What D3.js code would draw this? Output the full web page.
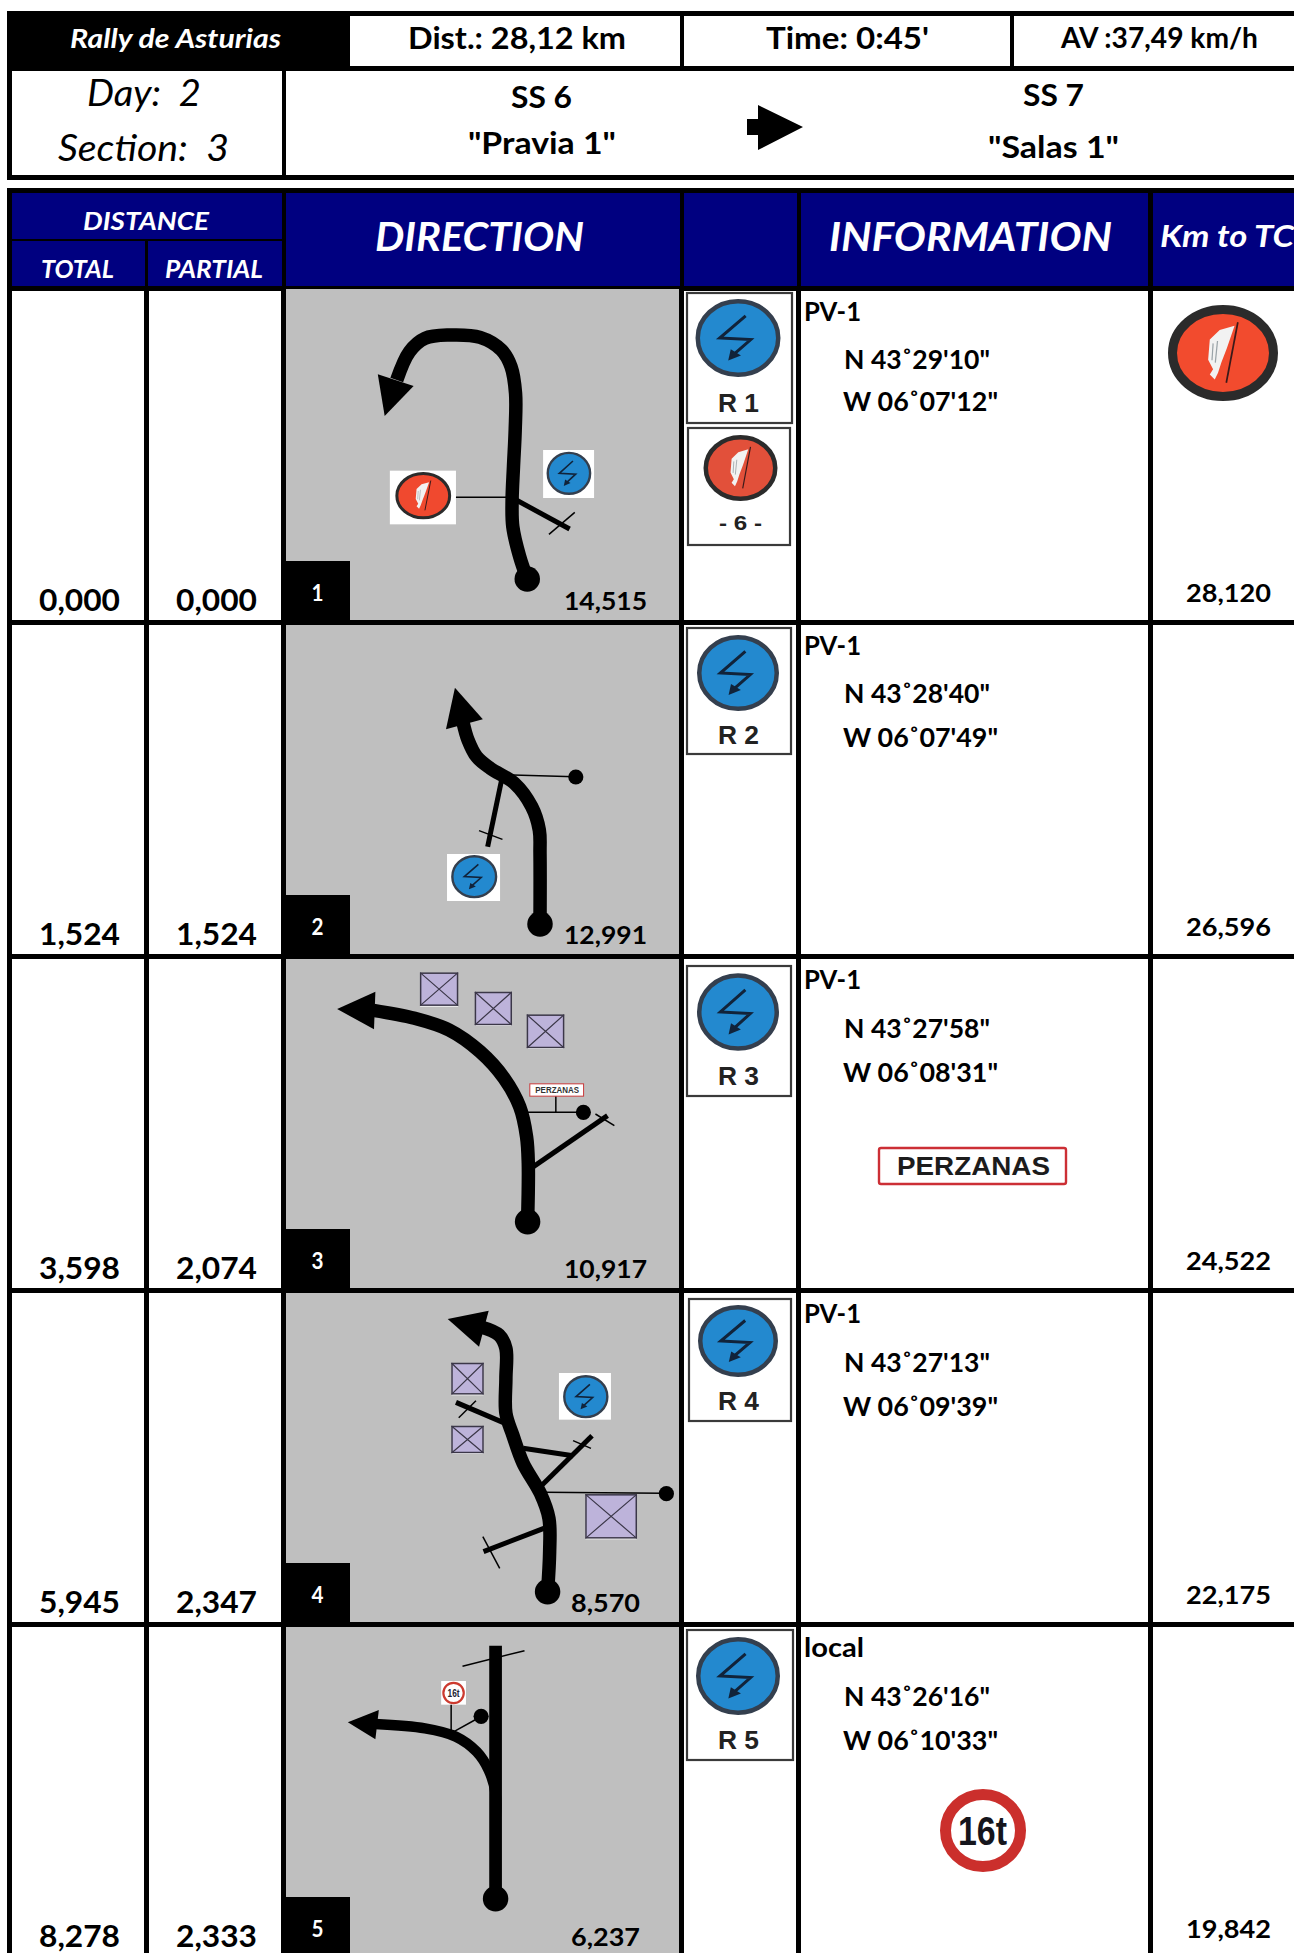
<!DOCTYPE html>
<html><head><meta charset="utf-8">
<script src="https://cdn.jsdelivr.net/npm/d3@7"></script>
<style>html,body{margin:0;padding:0;background:#fff}svg{display:block}</style>
</head><body><svg id="c" width="1294" height="1953"></svg>
<script>
// ---- Values read from the roadbook ----
const rallyName = "Rally de Asturias";
const distLabel = "Dist.: 28,12 km";
const timeLabel = "Time: 0:45'";
const avgLabel = "AV :37,49 km/h";
const dayLabel = "Day:  2";
const sectionLabel = "Section:  3";
const fromStage = ["SS 6", '"Pravia 1"'];
const toStage = ["SS 7", '"Salas 1"'];
const headers = ["DISTANCE", "TOTAL", "PARTIAL", "DIRECTION", "INFORMATION", "Km to TC"];
const steps = [1, 2, 3, 4, 5];
const totals = ["0,000", "1,524", "3,598", "5,945", "8,278"];
const partials = ["0,000", "1,524", "2,074", "2,347", "2,333"];
const toFinish = ["14,515", "12,991", "10,917", "8,570", "6,237"];
const toControl = ["28,120", "26,596", "24,522", "22,175", "19,842"];
const roads = ["PV-1", "PV-1", "PV-1", "PV-1", "local"];
const north = ["N 43˚29'10\"", "N 43˚28'40\"", "N 43˚27'58\"", "N 43˚27'13\"", "N 43˚26'16\""];
const west = ["W 06˚07'12\"", "W 06˚07'49\"", "W 06˚08'31\"", "W 06˚09'39\"", "W 06˚10'33\""];
const refs = ["R 1", "R 2", "R 3", "R 4", "R 5"];

// Tulip geometry: [x,y] readings on a 1568×1050 grid laid over each 540×350 window
const tulipMain = [
 [[747,897],[725,830],[705,740],[703,660],[707,560],[712,450],[713,340],[700,260],[672,210],[610,172],[520,165],[450,175],[405,215],[368,300]],
 [[784,912],[784,700],[782,630],[760,560],[710,490],[640,445],[600,410],[575,360],[560,305]],
 [[748,815],[750,640],[745,560],[725,470],[680,385],[610,305],[520,240],[420,205],[300,181]],
 [[806,920],[812,800],[810,700],[785,625],[735,535],[705,450],[685,385],[685,280],[685,190],[665,150],[610,125]],
 [[655,600],[655,520],[635,450],[600,395],[540,350],[450,325],[305,312]]
];
const tulipHeads = [
 [[313,283],[417,318],[333,408]],
 [[537,203],[618,298],[511,328]],
 [[195,177],[306,125],[302,238]],
 [[516,102],[635,77],[607,185]],
 [[226,307],[316,270],[306,358]]
];
const tulipDots = [[[747,897,37]],[[784,912,37],[888,471,22]],[[748,815,37],[910,487,22]],[[806,920,37],[1151,626,22]],[[655,836,37],[613,289,22]]];
const thickLines = [
 [[715,660,870,747]],
 [[672,482,632,680]],
 [[765,650,980,497]],
 [[795,730,620,800],[785,605,935,452],[735,490,880,512],[678,413,540,352]],
 [[655,77,655,836]]
];
const thinLines = [
 [[540,652,700,652],[810,763,885,697]],
 [[705,465,885,470],[607,632,675,658]],
 [[745,487,900,487],[830,437,830,487],[945,492,1000,527]],
 [[795,622,1140,625],[618,755,667,850],[880,467,932,490],[548,398,598,347]],
 [[559,139,739,92],[526,250,526,335],[530,337,600,297]]
];
const crossBoxes = [[],[],[[436,68,546,167],[595,126,702,225],[746,194,854,294]],[[527,234,620,328],[527,423,620,504],[916,628,1065,760]],[]];
const miniBlue = [[793,510,941,654,868,580,65,65],[514,702,668,843,593,770,67,65],null,[839,264,990,404,917,335,66,65],null];
const miniFlag = [[348,572,540,733,445,647,81,71],null,null,null,null];

// Sign shapes, in unit-circle coordinates
const boltLine = [[.18,-.57],[-.43,0],[.30,.04],[-.12,.44]];
const boltTip = [[-.23,.58],[-.17,.29],[.07,.45]];
const flagCloth = [[.21,-.57],[-.06,-.48],[-.24,-.28],[-.27,.14],[-.18,.34],[-.24,.45],[-.15,.55],[-.09,.41],[-.03,.2],[.07,-.1]];
const flagPole = [[.27,-.64],[.06,.62]];
const flagVeins = [[[-.18,-.2],[-.2,.15]],[[-.1,-.25],[-.14,.2]]];

// ---- Layout scales ----
const svg = d3.select("#c");
const font = "Lato, Carlito, sans-serif";
const rowLine = d3.scaleLinear().domain([0,1]).range([286,620]);
const rowBase = d3.scaleLinear().domain([0,1]).range([611,945]);
const zoomOff = [280,620,950,1285,1620];
const gx = d3.scaleLinear().domain([0,1568]).range([270,810]);
const gw = d3.scaleLinear().domain([0,1568]).range([0,540]);
const gyOf = i => d3.scaleLinear().domain([0,1050]).range([zoomOff[i], zoomOff[i]+350]);

function T(txt,x0,x1,base,size,o={}){
  return (o.g||svg).append("text").attr("x",x0).attr("y",base)
    .attr("font-family",o.family||font).attr("font-size",size)
    .attr("font-weight",o.w||700).attr("font-style",o.i?"italic":"normal")
    .attr("fill",o.fill||"#000").attr("textLength",x1-x0).attr("lengthAdjust","spacingAndGlyphs")
    .attr("xml:space","preserve").style("white-space","pre").text(txt);
}
function R(x0,y0,x1,y1,fill){return svg.append("rect").attr("x",x0).attr("y",y0).attr("width",x1-x0).attr("height",y1-y0).attr("fill",fill);}

function blueSign(cx,cy,rx,ry,ring,bw){
  svg.append("ellipse").attr("cx",cx).attr("cy",cy).attr("rx",rx-ring/2).attr("ry",ry-ring/2)
     .attr("fill","#2389cf").attr("stroke","#343f4e").attr("stroke-width",ring);
  const l=d3.line().x(d=>cx+d[0]*rx).y(d=>cy+d[1]*ry);
  svg.append("path").attr("d",l(boltLine)).attr("fill","none").attr("stroke","#11233a").attr("stroke-width",bw);
  svg.append("path").attr("d",l(boltTip)+"Z").attr("fill","#11233a");
}
function flagSign(cx,cy,rx,ry,ring,fill){
  svg.append("ellipse").attr("cx",cx).attr("cy",cy).attr("rx",rx-ring/2).attr("ry",ry-ring/2)
     .attr("fill",fill).attr("stroke","#2b2b2b").attr("stroke-width",ring);
  const l=d3.line().x(d=>cx+d[0]*rx).y(d=>cy+d[1]*ry);
  svg.append("path").attr("d",l(flagCloth)+"Z").attr("fill","#f2f2f2");
  flagVeins.forEach(v=>svg.append("path").attr("d",l(v)).attr("stroke","#9aa3a8").attr("stroke-width",Math.max(.6,rx/45)).attr("fill","none"));
  svg.append("path").attr("d",l(flagPole)).attr("stroke","#3a1a1a").attr("stroke-width",Math.max(1,rx/32)).attr("fill","none");
}
function card(x0,y0,x1,y1){
  svg.append("rect").attr("x",x0+1).attr("y",y0+1).attr("width",x1-x0-2).attr("height",y1-y0-2)
     .attr("fill","#fff").attr("stroke","#3a3a3a").attr("stroke-width",2.2);
}

// ---- Top block ----
R(7,11,1294,180,"#000");
R(350,16,680,66,"#fff"); R(684,16,1010,66,"#fff"); R(1014,16,1294,66,"#fff");
R(12,71,282,175,"#fff"); R(286,71,1294,175,"#fff");
T(rallyName,70,281,48,27,{i:1,fill:"#fff"});
T(distLabel,408,626,49,31);
T(timeLabel,766,929,49,31);
T(avgLabel,1061,1258,48,28);
T(dayLabel,87,201,106,37,{i:1,w:400});
T(sectionLabel,58,229,161,37,{i:1,w:400});
T(fromStage[0],511,572,108,31);
T(fromStage[1],468,616,154,31);
T(toStage[0],1023,1084,106,31);
T(toStage[1],988,1119,158,31);
svg.append("path").attr("d",d3.line()([[747,119],[758,119],[758,105],[803,127],[758,150],[758,135],[747,135]])+"Z").attr("fill","#000");

// ---- Header block ----
const navy="#000080";
R(7,188,1294,291,"#000");
R(12,193,282,239,navy); R(12,241,145,286,navy); R(148,241,282,286,navy);
R(286,193,680,286,navy); R(684,193,797,286,navy); R(801,193,1148,286,navy); R(1153,193,1294,286,navy);
T(headers[0],83,209,230,25,{i:1,fill:"#fff"});
T(headers[1],41,114,278,24,{i:1,fill:"#fff"});
T(headers[2],165,263,278,24,{i:1,fill:"#fff"});
T(headers[3],375,584,251,40,{i:1,fill:"#fff"});
T(headers[4],829,1112,251,40,{i:1,fill:"#fff"});
T(headers[5],1160,1294,247,30,{i:1,fill:"#fff"});

// ---- Rows ----
R(7,286,12,1953,"#000");
[144,281,679,796,1148].forEach(x=>R(x,286,x+5,1953,"#000"));
R(7,286,1294,291,"#000");
steps.forEach((s,i)=>{ if(i>0) R(7,rowLine(i),1294,rowLine(i)+5,"#000"); });

// grey tulip panels, step boxes
steps.forEach((s,i)=>{
  const top=i===0?289:rowLine(i)+5, bottom=rowLine(i+1);
  R(286,top,679,Math.min(bottom,1953),"#bfbfbf");
  R(281,bottom-59,350,Math.min(bottom,1953),"#000");
  T(String(s),311.5,323.5,bottom-19,23,{fill:"#fff"});
});

const NUM=31, SMALL=24;
steps.forEach((s,i)=>{
  const b=rowBase(i);
  T(totals[i],39,120,b,NUM);
  T(partials[i],176,257,b,NUM);
  const f=toFinish[i], fx=f.length>5?[564,647]:[571,640];
  T(f,fx[0],fx[1],b-1,SMALL+.5);
  T(toControl[i],1186,1271,b-9,SMALL+.5);
});

// tulips
const crossColor="#3b3748";
steps.forEach((s,i)=>{
  const sx=gx, sy=gyOf(i);
  const w=v=>gw(v);
  const line=d3.line().x(d=>sx(d[0])).y(d=>sy(d[1])).curve(d3.curveCatmullRom.alpha(.5));
  if(miniBlue[i]){const m=miniBlue[i]; R(sx(m[0]),sy(m[1]),sx(m[2]),sy(m[3]),"#fff");
    blueSign(sx(m[4]),sy(m[5]),w(m[6]),m[7]/3,2.4,1.6);}
  if(miniFlag[i]){const m=miniFlag[i]; R(sx(m[0]),sy(m[1]),sx(m[2]),sy(m[3]),"#fff");
    flagSign(sx(m[4]),sy(m[5]),w(m[6]),m[7]/3,3,"#f0492f");}
  crossBoxes[i].forEach(b=>{
    const x0=sx(b[0]),y0=sy(b[1]),x1=sx(b[2]),y1=sy(b[3]);
    R(x0,y0+1,x1,y1+1,"#fff");
    svg.append("rect").attr("x",x0+.5).attr("y",y0+.5).attr("width",x1-x0-1).attr("height",y1-y0-1).attr("fill","#bdb3da").attr("stroke",crossColor).attr("stroke-width",1.5);
    svg.append("path").attr("d",`M${x0},${y0}L${x1},${y1}M${x1},${y0}L${x0},${y1}`).attr("stroke",crossColor).attr("stroke-width",1.2);
  });
  thinLines[i].forEach(l=>svg.append("line").attr("x1",sx(l[0])).attr("y1",sy(l[1])).attr("x2",sx(l[2])).attr("y2",sy(l[3])).attr("stroke","#000").attr("stroke-width",1.5));
  thickLines[i].forEach(l=>svg.append("line").attr("x1",sx(l[0])).attr("y1",sy(l[1])).attr("x2",sx(l[2])).attr("y2",sy(l[3])).attr("stroke","#000").attr("stroke-width",i===4?12.7:5));
  svg.append("path").attr("d",line(tulipMain[i])).attr("fill","none").attr("stroke","#000").attr("stroke-width",i===4?10.5:13.5);
  svg.append("path").attr("d",d3.line().x(d=>sx(d[0])).y(d=>sy(d[1]))(tulipHeads[i])+"Z").attr("fill","#000");
  tulipDots[i].forEach(d=>svg.append("circle").attr("cx",sx(d[0])).attr("cy",sy(d[1])).attr("r",w(d[2])).attr("fill","#000"));
});

// tiny PERZANAS in tulip 3
(function(){
  const gy=gyOf(2);
  const x0=gx(753),x1=gx(912),y0=gy(400),y1=gy(440);
  svg.append("rect").attr("x",x0+.5).attr("y",y0+.5).attr("width",x1-x0-1).attr("height",y1-y0-1).attr("fill","#fff").attr("stroke","#c9393b").attr("stroke-width",1);
  T("PERZANAS",x0+6,x1-5,y1-4,9.5,{family:"Liberation Sans",fill:"#333",w:700});
})();
// tiny 16t in tulip 5
(function(){
  const gy=gyOf(4);
  R(gx(497),gy(183),gx(569),gy(254),"#fff");
  svg.append("circle").attr("cx",gx(533)).attr("cy",gy(219)).attr("r",10.2).attr("fill","#fff").attr("stroke","#cc3a2f").attr("stroke-width",2.2);
  T("16t",gx(533)-6,gx(533)+6,gy(219)+3.5,10,{family:"Liberation Sans",fill:"#223"});
})();

// cards column
const cardBoxes=[[686,292,793,424],[686,627,792,755],[686,965,792,1097],[688,1298,792,1422],[686,1629,794,1761]];
const cardCircles=[[738,338,42.5,39],[738,673,41,38],[738,1012,41,38.7],[738,1341,40,36],[738,1676,42,39]];
const refBase=[412,744,1085,1410,1749];
steps.forEach((s,i)=>{
  const b=cardBoxes[i], c=cardCircles[i];
  card(b[0],b[1],b[2],b[3]);
  blueSign(c[0],c[1],c[2],c[3],4.5,3);
  T(refs[i],718,759,refBase[i],25,{family:"Liberation Sans",fill:"#222"});
});
card(687,427,791,546);
flagSign(740.5,468,37,33,4.5,"#e2503a");
T("- 6 -",719,762,530,21,{family:"Liberation Sans",fill:"#222"});

// information column
const pvBase=[321,655,989,1323,1657];
const nBase=[369,703,1038,1372,1706];
const wBase=[411,747,1082,1416,1750];
const roadW=[[804,861],[804,861],[804,861],[804,861],[804,864]];
steps.forEach((s,i)=>{
  T(roads[i],roadW[i][0],roadW[i][1],pvBase[i],26);
  T(north[i],844,990,nBase[i],26);
  T(west[i],843,998,wBase[i],26);
});
// big Perzanas
svg.append("rect").attr("x",879).attr("y",1148).attr("width",187).attr("height",36).attr("rx",2).attr("fill","#fff").attr("stroke","#cc2f35").attr("stroke-width",2.4);
T("PERZANAS",897,1050,1175,25,{family:"Liberation Sans",fill:"#1c1c1c"});
// big 16t
svg.append("ellipse").attr("cx",983).attr("cy",1830.5).attr("rx",37.5).attr("ry",36).attr("fill","#fff").attr("stroke","#cb2f2c").attr("stroke-width",11);
T("16t",958,1007,1845,41,{family:"Liberation Sans",fill:"#15151c"});
// km-to-TC flag
flagSign(1223,353,55,48,9,"#f24b2e");
</script></body></html>
